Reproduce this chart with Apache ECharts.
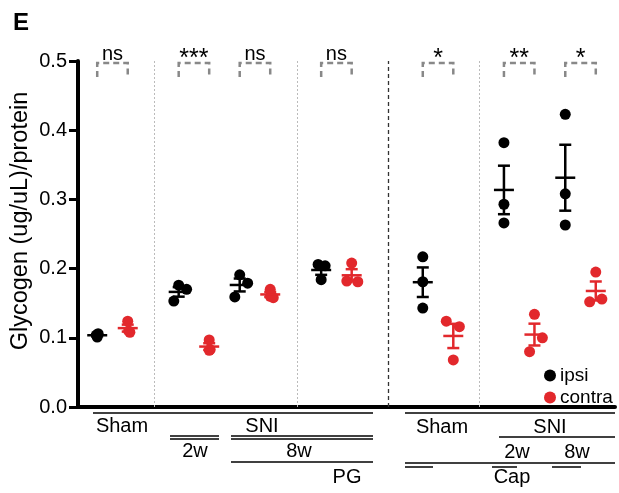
<!DOCTYPE html>
<html>
<head>
<meta charset="utf-8">
<script src="https://cdn.jsdelivr.net/npm/echarts@6/dist/echarts.min.js"></script>
<style>
  html, body { margin: 0; padding: 0; background: #fff; }
  #chart { width: 619px; height: 493px; }
</style>
</head>
<body>
<div id="chart"></div>
<script>
// glycogen per sample, 7 groups x 3 animals
const groups = ['Sham', 'SNI 2w', 'SNI 8w', 'SNI 8w PG', 'Cap Sham', 'Cap SNI 2w', 'Cap SNI 8w']
const ipsi = [
  [0.106, 0.104, 0.101],
  [0.176, 0.170, 0.153],
  [0.191, 0.179, 0.159],
  [0.206, 0.204, 0.184],
  [0.217, 0.181, 0.143],
  [0.382, 0.293, 0.266],
  [0.423, 0.308, 0.263]
]
const contra = [
  [0.124, 0.110, 0.108],
  [0.097, 0.083, 0.082],
  [0.170, 0.160, 0.158],
  [0.208, 0.182, 0.181],
  [0.124, 0.116, 0.068],
  [0.134, 0.100, 0.080],
  [0.195, 0.152, 0.156]
]
const sig = ['ns', '***', 'ns', 'ns', '*', '**', '*']
const yTicks = [0, 0.1, 0.2, 0.3, 0.4, 0.5]
const yName = 'Glycogen (ug/uL)/protein'

// layout (x axis units)
const groupX = [1.13, 3.8, 5.8, 8.47, 11.8, 14.46, 16.47]
const jitterIpsi = [[0.03, -0.03, 0], [0, 0.26, -0.16], [0, 0.26, -0.16], [-0.1, 0.13, 0], [0, 0, 0], [0, 0, 0], [0, 0, 0]]
const jitterContra = [[0, 0.03, 0.07], [0, 0.03, 0], [0, 0, 0.1], [0, -0.16, 0.2], [-0.23, 0.2, 0], [0, 0.26, -0.16], [0, -0.2, 0.2]]
const dividers = [2.49, 7.18, 13.15]
const mainDivider = 10.16

const RED = '#e2282c'
const FONT = 'Liberation Sans, Arial, sans-serif'

function meanSem(arr) {
  let m = arr.reduce((a, b) => a + b, 0) / arr.length
  let sd = Math.sqrt(arr.reduce((a, b) => a + (b - m) * (b - m), 0) / (arr.length - 1))
  return [m, sd / Math.sqrt(arr.length)]
}

function points(vals, jit, side) {
  let out = []
  vals.forEach((g, i) => {
    g.forEach((v, j) => out.push([groupX[i] + side * 0.5 + jit[i][j], v]))
  })
  return out
}

function errData(vals, side) {
  return vals.map((g, i) => {
    let ms = meanSem(g)
    return [groupX[i] + side * 0.5, ms[0], ms[1]]
  })
}

function errItem(color) {
  return function (params, api) {
    let x = api.value(0), m = api.value(1), s = api.value(2)
    let pm = api.coord([x, m])
    let pt = api.coord([x, m + s])
    let pb = api.coord([x, m - s])
    let st = { stroke: color, lineWidth: 2.5 }
    return {
      type: 'group',
      children: [
        { type: 'line', shape: { x1: pm[0], y1: pt[1], x2: pm[0], y2: pb[1] }, style: st },
        { type: 'line', shape: { x1: pm[0] - 10, y1: pm[1], x2: pm[0] + 10, y2: pm[1] }, style: st },
        { type: 'line', shape: { x1: pm[0] - 6, y1: pt[1], x2: pm[0] + 6, y2: pt[1] }, style: st },
        { type: 'line', shape: { x1: pm[0] - 6, y1: pb[1], x2: pm[0] + 6, y2: pb[1] }, style: st }
      ]
    }
  }
}

let chart = echarts.init(document.getElementById('chart'))

let bottomLines = [
  [93, 413, 373, 413], [405, 413, 615, 413],
  [170, 436, 219, 436], [170, 439, 219, 439],
  [231, 436, 373, 436], [231, 439, 373, 439],
  [499, 437, 615, 437],
  [231, 462, 373, 462], [405, 463, 615, 463],
  [405, 467, 433, 467], [492, 467, 517, 467], [552, 467, 581, 467]
]
let bottomText = [
  ['Sham', 122, 426], ['SNI', 262, 426], ['2w', 195, 451], ['8w', 299, 451], ['PG', 347, 477],
  ['Sham', 442, 427], ['SNI', 550, 427], ['2w', 517, 452], ['8w', 577, 452], ['Cap', 512, 477]
]

let graphics = [
  { type: 'text', left: 13, top: 11, style: { text: 'E', font: 'bold 24px ' + FONT, fill: '#000' } },
  {
    type: 'text', x: 21, y: 221, rotation: Math.PI / 2,
    style: { text: yName, font: '23.5px ' + FONT, fill: '#000', textAlign: 'center', textVerticalAlign: 'middle' }
  }
]
bottomLines.forEach(l => graphics.push({
  type: 'line', shape: { x1: l[0], y1: l[1], x2: l[2], y2: l[3] }, style: { stroke: '#000', lineWidth: 1.5 }
}))
bottomText.forEach(t => graphics.push({
  type: 'text', x: t[1], y: t[2],
  style: { text: t[0], font: '20px ' + FONT, fill: '#000', textAlign: 'center', textVerticalAlign: 'middle' }
}))

chart.setOption({
  animation: false,
  textStyle: { fontFamily: FONT },
  grid: { left: 78, right: 4, top: 61, bottom: 86 },
  legend: {
    data: ['ipsi', 'contra'],
    orient: 'vertical',
    left: 539,
    top: 361,
    itemGap: 3,
    itemWidth: 12,
    itemHeight: 12,
    icon: 'circle',
    textStyle: { fontSize: 19, color: '#000', padding: [0, 0, 0, -1] }
  },
  xAxis: {
    type: 'value',
    min: 0,
    max: 17.6,
    axisLine: { show: true, lineStyle: { color: '#000', width: 4 } },
    axisTick: { show: false },
    axisLabel: { show: false },
    splitLine: { show: false }
  },
  yAxis: {
    type: 'value',
    min: yTicks[0],
    max: yTicks[yTicks.length - 1],
    interval: 0.1,
    axisLine: { show: true, lineStyle: { color: '#000', width: 4 } },
    axisTick: { show: true, length: 9, lineStyle: { width: 3, color: '#000' } },
    axisLabel: { fontSize: 20, color: '#000', margin: 11, formatter: v => v.toFixed(1) },
    splitLine: { show: false }
  },
  graphic: graphics,
  series: [
    {
      name: 'ipsi',
      type: 'scatter',
      symbolSize: 11,
      itemStyle: { color: '#000', opacity: 1 },
      data: points(ipsi, jitterIpsi, -1),
      z: 3,
      markLine: {
        silent: true,
        symbol: 'none',
        label: { show: false },
        lineStyle: { color: '#bbb', type: [2, 2], width: 1 },
        data: dividers.map(d => ({ xAxis: d })).concat([
          { xAxis: mainDivider, lineStyle: { color: '#333', type: [4, 3], width: 1.3 } }
        ])
      }
    },
    {
      name: 'contra',
      type: 'scatter',
      symbolSize: 11,
      itemStyle: { color: RED, opacity: 1 },
      data: points(contra, jitterContra, 1),
      z: 3
    },
    {
      type: 'custom',
      renderItem: errItem('#000'),
      data: errData(ipsi, -1),
      z: 4
    },
    {
      type: 'custom',
      renderItem: errItem(RED),
      data: errData(contra, 1),
      z: 4
    },
    {
      type: 'custom',
      clip: false,
      renderItem: function (params, api) {
        let x = api.value(0)
        let pl = api.coord([x - 0.5, 0.497])
        let pr = api.coord([x + 0.5, 0.497])
        let st = { stroke: '#888', fill: null, lineWidth: 2.5, lineDash: [6, 4] }
        let txt = sig[params.dataIndex]
        let star = txt.indexOf('*') >= 0
        return {
          type: 'group',
          children: [
            { type: 'polyline', shape: { points: [[pl[0], pl[1] + 14], [pl[0], pl[1]], [pr[0], pr[1]], [pr[0], pr[1] + 14]] }, style: st },
            {
              type: 'text', x: (pl[0] + pr[0]) / 2, y: pl[1] - (star ? 4 : 9),
              style: { text: txt, font: (star ? '25px ' : '20px ') + FONT, fill: '#000', textAlign: 'center', textVerticalAlign: 'middle' }
            }
          ]
        }
      },
      data: groupX.map(x => [x, 0.5])
    }
  ]
})
</script>
</body>
</html>
